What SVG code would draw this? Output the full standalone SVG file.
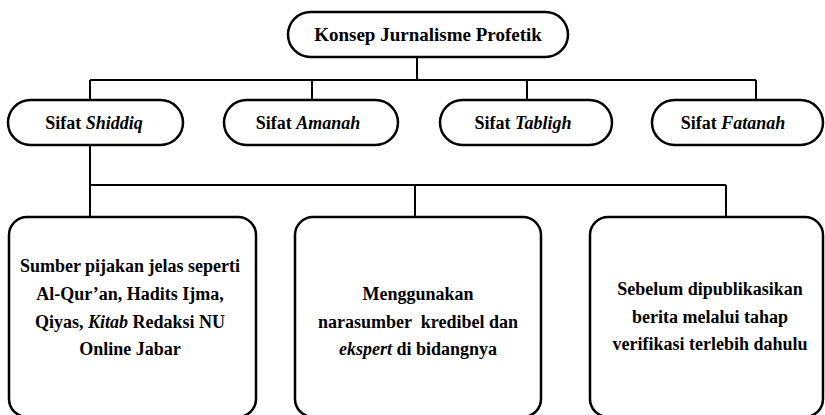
<svg xmlns="http://www.w3.org/2000/svg" width="825" height="415" viewBox="0 0 825 415">
<style>
.pill{fill:#fff;stroke:#000;stroke-width:2.5}
.box{fill:#fff;stroke:#000;stroke-width:2.5}
.ln{stroke:#000;stroke-width:2;fill:none}
.lbl{font-family:'Liberation Serif','Times New Roman','DejaVu Serif',serif;font-weight:700;fill:#000;text-anchor:middle}
.t1{font-size:19px}
.t2{font-size:18px}
.it{font-style:italic}
</style>
<rect width="825" height="415" fill="#fff"/>
<g id="connectors">
<path class="ln" d="M417,57V80M90,80H756M90,80V100M312,80V100M527,80V100M756,80V100"/>
<path class="ln" d="M90,145V217M90,185H726M415,185V217M726,185V217"/>
</g>
<g id="root">
<rect class="pill" x="288" y="12" width="280" height="45" rx="22.5"/>
<text class="lbl t1" x="428" y="41">Konsep Jurnalisme Profetik</text>
</g>
<g id="shiddiq">
<rect class="pill" x="8" y="100" width="175" height="45" rx="22.5"/>
<text class="lbl t2" x="94" y="129">Sifat <tspan class="it">Shiddiq</tspan></text>
</g>
<g id="amanah">
<rect class="pill" x="224" y="100" width="174" height="45" rx="22.5"/>
<text class="lbl t2" x="308" y="129">Sifat <tspan class="it">Amanah</tspan></text>
</g>
<g id="tabligh">
<rect class="pill" x="440" y="100" width="172" height="45" rx="22.5"/>
<text class="lbl t2" x="523" y="129">Sifat <tspan class="it">Tabligh</tspan></text>
</g>
<g id="fatanah">
<rect class="pill" x="652" y="100" width="171" height="45" rx="22.5"/>
<text class="lbl t2" x="733" y="129">Sifat <tspan class="it">Fatanah</tspan></text>
</g>
<g id="box1">
<rect class="box" x="9" y="217" width="247" height="200" rx="18"/>
<text class="lbl t2" x="130" y="272">Sumber pijakan jelas seperti</text>
<text class="lbl t2" x="130" y="300">Al-Qur’an, Hadits Ijma,</text>
<text class="lbl t2" x="130" y="328">Qiyas, <tspan class="it">Kitab</tspan> Redaksi NU</text>
<text class="lbl t2" x="130" y="355">Online Jabar</text>
</g>
<g id="box2">
<rect class="box" x="295" y="217" width="246" height="200" rx="18"/>
<text class="lbl t2" x="418" y="300">Menggunakan</text>
<text class="lbl t2" x="418" y="328" xml:space="preserve">narasumber  kredibel dan</text>
<text class="lbl t2" x="418" y="355"><tspan class="it">ekspert</tspan> di bidangnya</text>
</g>
<g id="box3">
<rect class="box" x="590" y="217" width="233" height="200" rx="18"/>
<text class="lbl t2" x="710" y="295">Sebelum dipublikasikan</text>
<text class="lbl t2" x="710" y="323">berita melalui tahap</text>
<text class="lbl t2" x="710" y="350">verifikasi terlebih dahulu</text>
</g>
</svg>
